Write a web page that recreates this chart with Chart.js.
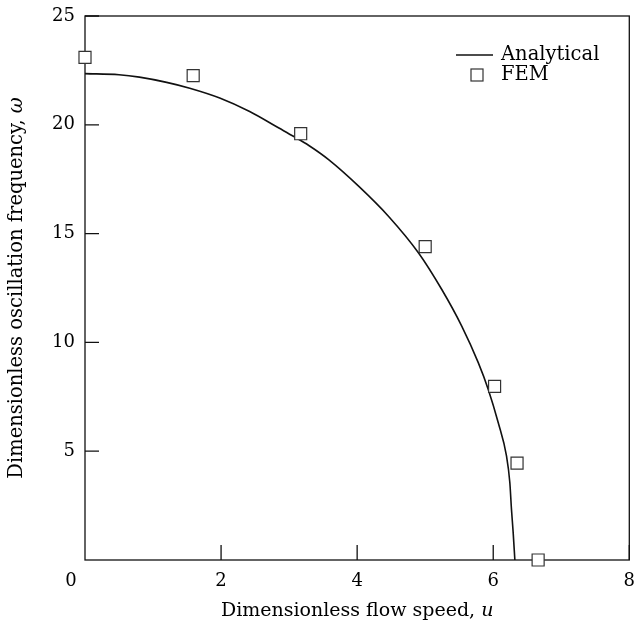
<!DOCTYPE html>
<html>
<head>
<meta charset="utf-8">
<script src="https://cdn.jsdelivr.net/npm/chart.js@4"></script>
<style>
  html, body { margin: 0; padding: 0; background: #fff; }
  #wrap { width: 639px; height: 623px; }
</style>
</head>
<body>
<div id="wrap"><canvas id="chart" width="639" height="623"></canvas></div>
<script>
// analytical curve
const curveU = [0, 0.5, 0.8, 1.2, 1.54, 1.98, 2.42, 2.85, 3.07, 3.29, 3.585, 4.025, 4.463, 4.903, 5.244, 5.537, 5.78, 5.927, 6.073, 6.195, 6.244, 6.268, 6.293, 6.318];
const curveW = [22.35, 22.3, 22.19, 21.95, 21.68, 21.23, 20.61, 19.85, 19.46, 19.05, 18.39, 17.17, 15.79, 14.11, 12.43, 10.75, 9.07, 7.84, 6.32, 4.78, 3.56, 2.34, 1.27, 0];

// FEM results
const femU = [0, 1.59, 3.17, 5.0, 6.02, 6.35, 6.66];
const femW = [23.1, 22.26, 19.59, 14.4, 7.98, 4.45, 0];

const xTicks = [0, 2, 4, 6, 8];
const yTicks = [5, 10, 15, 20, 25];

const FONT = '"DejaVu Serif", serif';

// box, inward ticks and tick labels drawn by hand so the auto padding
// doesn't push the plot area around
const frame = {
  id: 'frame',
  beforeDatasetsDraw(chart) {
    const { ctx, chartArea: a, scales: { x, y } } = chart;
    ctx.save();
    ctx.strokeStyle = '#111';
    ctx.lineWidth = 1.3;
    ctx.strokeRect(a.left, a.top, a.right - a.left, a.bottom - a.top);
    ctx.beginPath();
    xTicks.forEach((v) => {
      if (v === 0) return;
      const px = x.getPixelForValue(v);
      ctx.moveTo(px, a.bottom);
      ctx.lineTo(px, a.bottom - 15);
    });
    yTicks.forEach((v) => {
      const py = y.getPixelForValue(v);
      ctx.moveTo(a.left, py);
      ctx.lineTo(a.left + 14, py);
    });
    ctx.stroke();

    ctx.fillStyle = '#000';
    ctx.font = '18px ' + FONT;
    ctx.textBaseline = 'middle';
    ctx.textAlign = 'center';
    xTicks.forEach((v) => {
      // the 0 sits in the corner, shared by both axes
      const px = v === 0 ? a.left - 14 : x.getPixelForValue(v);
      ctx.fillText(String(v), px, a.bottom + 21);
    });
    ctx.textAlign = 'right';
    yTicks.forEach((v) => {
      ctx.fillText(String(v), a.left - 10, y.getPixelForValue(v));
    });
    ctx.restore();
  },
  afterDraw(chart) {
    const { ctx, chartArea: a } = chart;
    ctx.save();
    ctx.fillStyle = '#000';
    ctx.textBaseline = 'middle';

    // x title with italic u
    const t1 = 'Dimensionless flow speed, ';
    ctx.font = '19px ' + FONT;
    const w1 = ctx.measureText(t1).width;
    ctx.font = 'italic 19px ' + FONT;
    const w2 = ctx.measureText('u').width;
    let sx = (a.left + a.right) / 2 - (w1 + w2) / 2;
    ctx.textAlign = 'left';
    ctx.font = '19px ' + FONT;
    ctx.fillText(t1, sx, 611);
    ctx.font = 'italic 19px ' + FONT;
    ctx.fillText('u', sx + w1, 611);

    // y title with italic omega
    const t2 = 'Dimensionless oscillation frequency, ';
    ctx.font = '19.5px ' + FONT;
    const w3 = ctx.measureText(t2).width;
    ctx.font = 'italic 19.5px ' + FONT;
    const w4 = ctx.measureText('ω').width;
    ctx.translate(17, (a.top + a.bottom) / 2);
    ctx.rotate(-Math.PI / 2);
    sx = -(w3 + w4) / 2;
    ctx.font = '19.5px ' + FONT;
    ctx.fillText(t2, sx, 0);
    ctx.font = 'italic 19.5px ' + FONT;
    ctx.fillText('ω', sx + w3, 0);
    ctx.restore();

    // legend
    const ds = chart.data.datasets;
    ctx.save();
    ctx.font = '19.5px ' + FONT;
    ctx.textBaseline = 'middle';
    ctx.textAlign = 'left';
    ctx.fillStyle = '#000';
    ctx.strokeStyle = '#111';
    ctx.lineWidth = 1.5;
    ctx.beginPath();
    ctx.moveTo(456, 55);
    ctx.lineTo(493, 55);
    ctx.stroke();
    ctx.fillText(ds[0].label, 501, 55);
    ctx.fillStyle = '#fff';
    ctx.strokeStyle = '#333';
    ctx.lineWidth = 1.2;
    ctx.fillRect(471, 69, 12, 12);
    ctx.strokeRect(471, 69, 12, 12);
    ctx.fillStyle = '#000';
    ctx.fillText(ds[1].label, 501, 75);
    ctx.restore();
  }
};

new Chart(document.getElementById('chart'), {
  type: 'scatter',
  data: {
    datasets: [
      {
        label: 'Analytical',
        type: 'line',
        data: curveU.map((u, i) => ({ x: u, y: curveW[i] })),
        borderColor: '#111',
        borderWidth: 1.6,
        pointRadius: 0,
        cubicInterpolationMode: 'monotone',
        fill: false,
        order: 2,
      },
      {
        label: 'FEM',
        data: femU.map((u, i) => ({ x: u, y: femW[i] })),
        pointStyle: 'rect',
        pointRadius: 8.5,
        pointHoverRadius: 8.5,
        backgroundColor: '#fff',
        borderColor: '#333',
        borderWidth: 1.2,
        clip: false,
        order: 1,
      },
    ],
  },
  options: {
    responsive: false,
    animation: false,
    events: [],
    layout: { padding: { left: 0, top: 16, right: 7, bottom: 0 } },
    plugins: {
      legend: { display: false },
      tooltip: { enabled: false },
    },
    scales: {
      x: {
        type: 'linear',
        min: 0,
        max: 8,
        afterFit: (s) => { s.height = 63; },
        grid: { display: false, drawTicks: false },
        border: { display: false },
        ticks: { display: false },
      },
      y: {
        type: 'linear',
        min: 0,
        max: 25,
        afterFit: (s) => { s.width = 85; },
        grid: { display: false, drawTicks: false },
        border: { display: false },
        ticks: { display: false },
      },
    },
  },
  plugins: [frame],
});
</script>
</body>
</html>
